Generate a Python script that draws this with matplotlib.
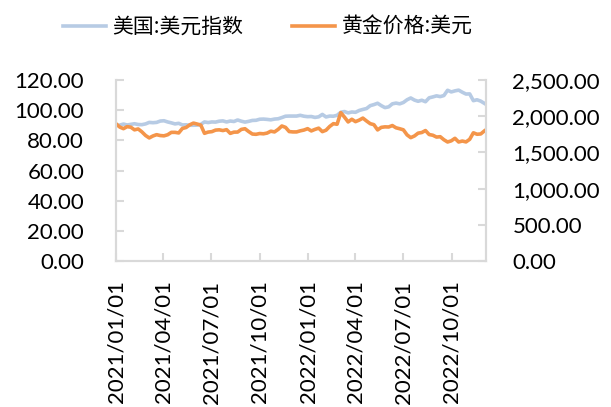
import numpy as np
import pandas as pd
import matplotlib
matplotlib.use('Agg')
import matplotlib.pyplot as plt
import matplotlib.dates as mdates
from matplotlib.ticker import FuncFormatter

plt.rcParams['font.family'] = ['Lato', 'Noto Sans CJK SC', 'DejaVu Sans']

# weekly values (Fridays) from 2021-01-01
dxy = [
    89.9, 90.1, 90.8, 90.2, 90.6,
    91.0, 90.5, 90.4, 90.9,
    91.9, 91.7, 91.9, 92.8,
    93.0, 92.2, 91.6, 90.9, 91.3,
    90.2, 90.3, 90.0, 90.0,
    90.1, 90.6, 92.2, 91.8,
    92.2, 92.1, 92.7, 92.9, 92.2,
    92.8, 92.5, 93.5, 92.7,
    92.1, 92.6, 93.2, 93.3,
    94.0, 94.1, 93.9, 93.6, 94.1,
    94.3, 95.1, 96.0, 96.1,
    96.1, 96.1, 96.6, 96.0, 95.7,
    95.8, 95.2, 95.6, 97.2,
    95.5, 96.1, 96.0, 96.6,
    98.6, 99.1, 98.2, 98.8,
    98.6, 99.8, 100.5, 101.1, 103.0,
    103.7, 104.6, 103.0, 101.7,
    102.2, 104.2, 104.7, 104.2,
    105.1, 106.9, 108.1, 106.7, 105.9,
    106.6, 105.6, 108.2, 108.8,
    109.5, 109.0, 109.7, 113.2, 112.1,
    112.8, 113.3, 111.9, 110.7,
    110.8, 106.3, 106.9, 106.0,
    104.5,
]
gold = [
    1895, 1850, 1828, 1856, 1848,
    1812, 1824, 1784, 1734,
    1700, 1727, 1745, 1733,
    1729, 1744, 1777, 1777, 1769,
    1831, 1844, 1881, 1905,
    1892, 1877, 1764, 1781,
    1787, 1808, 1812, 1802, 1814,
    1763, 1780, 1781, 1818,
    1827, 1788, 1754, 1750,
    1761, 1757, 1767, 1793, 1783,
    1818, 1865, 1846, 1788,
    1783, 1783, 1798, 1809, 1828,
    1797, 1818, 1835, 1787,
    1807, 1859, 1897, 1889,
    2050, 1988, 1921, 1958,
    1925, 1946, 1974, 1934, 1897,
    1883, 1811, 1846, 1853,
    1851, 1871, 1840, 1827,
    1812, 1742, 1704, 1727, 1766,
    1775, 1802, 1747, 1737,
    1712, 1717, 1675, 1644, 1660,
    1695, 1644, 1657, 1645,
    1681, 1771, 1751, 1755,
    1797,
]
dates = pd.date_range('2021-01-01', periods=len(dxy), freq='W-FRI')
tick_dates = pd.date_range('2021-01-01', '2022-10-01', freq='QS')

fig = plt.figure(figsize=(6.11, 4.07), dpi=100)
ax = fig.add_axes([0.19, 0.3587, 0.6054, 0.4447])
ax2 = ax.twinx()

l1, = ax.plot(dates, dxy, color='#B7CBE4', lw=2.6, label='美国:美元指数')
l2, = ax2.plot(dates, gold, color='#F4954A', lw=2.6, label='黄金价格:美元')

ax.set_xlim(pd.Timestamp('2021-01-01'), pd.Timestamp('2022-12-05'))
ax.set_ylim(0, 120)
ax2.set_ylim(0, 2500)
ax.set_yticks(np.arange(0, 121, 20))
ax2.set_yticks(np.arange(0, 2501, 500))
ax.set_xticks(tick_dates)
ax.xaxis.set_major_formatter(mdates.DateFormatter('%Y/%m/%d'))
ax.yaxis.set_major_formatter(FuncFormatter(lambda v, p: f'{v:.2f}'))
ax2.yaxis.set_major_formatter(FuncFormatter(lambda v, p: f'{v:,.2f}'))

grey = '#D9D9D9'
for a in (ax, ax2):
    a.spines['top'].set_visible(False)
    for s in ('left', 'right', 'bottom'):
        a.spines[s].set_color(grey)
        a.spines[s].set_linewidth(1.5)
ax.tick_params(axis='y', direction='in', length=6, width=1.5, color=grey,
               labelsize=16, pad=23)
ax2.tick_params(axis='y', direction='in', length=6, width=1.5, color=grey,
                labelsize=16, pad=19)
ax.tick_params(axis='x', direction='in', length=6, width=1.5, color=grey,
               labelsize=16, pad=14, labelrotation=90)

fig.legend(handles=[l1, l2], loc='center', bbox_to_anchor=(0.438, 0.934),
           ncol=2, frameon=False, prop={'family': ['Noto Sans CJK SC'], 'size': 15},
           handlelength=2.1, handletextpad=0.3, columnspacing=2.3)

fig.savefig('out.png', dpi=100)
